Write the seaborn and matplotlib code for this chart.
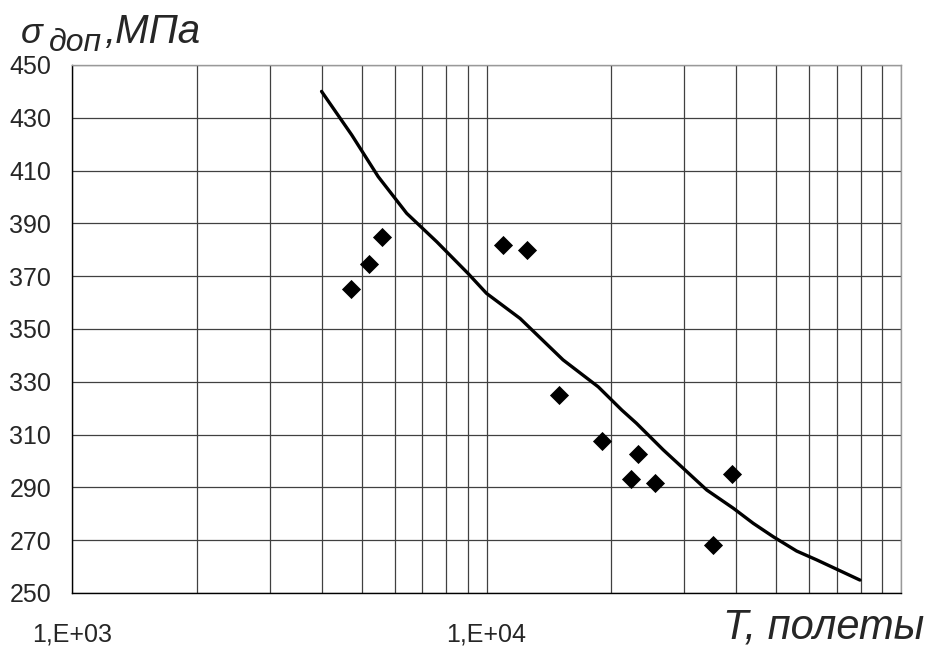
import matplotlib
matplotlib.use("Agg")
import matplotlib.pyplot as plt
import seaborn as sns
import pandas as pd
from matplotlib.ticker import FixedLocator, NullFormatter, LogLocator

# ---- data ----
curve_T = [4000, 4730, 5480, 6420, 7590, 9030, 10000, 12050, 15300, 18600,
           21200, 23000, 26700, 34000, 39400, 44000, 49200, 56000, 62700, 79600]
curve_sigma = [440, 423.5, 407.7, 393.8, 383, 371, 363.5, 354, 338.3, 328.1,
               319.3, 314.3, 304.2, 289, 282.1, 276.4, 271.3, 265.9, 262.5, 254.9]

pts_T = [4710, 5210, 5600, 10940, 12500, 14980, 18960, 22320, 23240, 25500, 35240, 39050]
pts_sigma = [365, 374.5, 385, 382, 380, 325, 307.6, 293, 302.7, 291.6, 268, 295]

x_ticks = [1e3, 1e4, 1e5]
x_tick_labels = ["1,E+03", "1,E+04", ""]
y_ticks = list(range(250, 451, 20))

sns.set_style("white")
plt.rcParams["font.family"] = ["Liberation Sans", "DejaVu Sans"]

W, H = 938, 649
fig = plt.figure(figsize=(W / 100, H / 100), dpi=100)
L, R, T, B = 72, 901, 65, 593
ax = fig.add_axes([L / W, 1 - B / H, (R - L) / W, (B - T) / H])

df_curve = pd.DataFrame({"T": curve_T, "sigma": curve_sigma})
df_pts = pd.DataFrame({"T": pts_T, "sigma": pts_sigma})

ax.set_xscale("log")
sns.lineplot(data=df_curve, x="T", y="sigma", ax=ax, color="black", lw=2.4,
             estimator=None, sort=False, zorder=3)
sns.scatterplot(data=df_pts, x="T", y="sigma", ax=ax, marker="D", s=95,
                color="black", edgecolor="black", linewidth=0, zorder=4)

ax.set_xlim(1e3, 1e5)
ax.set_ylim(250, 450)

ax.xaxis.set_major_locator(FixedLocator(x_ticks))
ax.set_xticklabels(x_tick_labels)
ax.xaxis.set_minor_locator(LogLocator(base=10, subs=range(2, 10)))
ax.xaxis.set_minor_formatter(NullFormatter())
ax.set_yticks(y_ticks)

ax.grid(True, which="major", axis="y", color="#404040", lw=0.9)
ax.grid(True, which="both", axis="x", color="#404040", lw=0.9)
ax.set_axisbelow(True)

ax.tick_params(axis="x", which="major", direction="out", length=6, width=1,
               color="black", pad=15, labelsize=18)
ax.tick_params(axis="x", which="minor", length=0)
ax.tick_params(axis="y", which="major", direction="out", length=6, width=1,
               color="black", pad=9, labelsize=18)

for side in ["left", "bottom"]:
    ax.spines[side].set_color("black")
    ax.spines[side].set_linewidth(1)
for side in ["top", "right"]:
    ax.spines[side].set_color("#999999")
    ax.spines[side].set_linewidth(1)

ax.set_xlabel("")
ax.set_ylabel("")

def ftext(x, y, s, **kw):
    fig.text(x / W, 1 - y / H, s, va="baseline", ha="left", style="italic", **kw)

ftext(21, 43, "σ", fontsize=26)
ftext(49, 51, "доп", fontsize=23)
ftext(104, 43, ",МПа", fontsize=29)
ftext(723, 639, "T, полеты", fontsize=30)

fig.savefig("out.png", dpi=100)
